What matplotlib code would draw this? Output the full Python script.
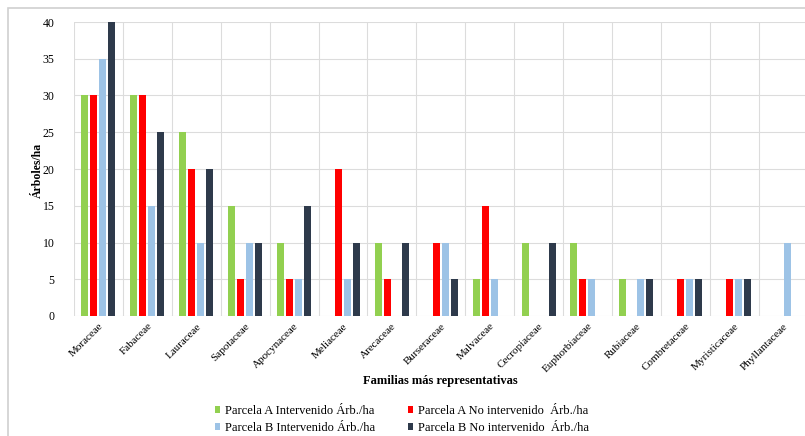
import matplotlib
matplotlib.use("Agg")
import matplotlib.pyplot as plt
import matplotlib.patches as mpatches
import numpy as np

plt.rcParams['font.family'] = ['Liberation Serif', 'DejaVu Serif']

familias = ["Moraceae", "Fabaceae", "Lauraceae", "Sapotaceae", "Apocynaceae",
            "Meliaceae", "Arecaceae", "Burseraceae", "Malvaceae", "Cecropiaceae",
            "Euphorbiaceae", "Rubiaceae", "Combretaceae", "Myristicaceae", "Phyllantaceae"]
a_int = [30, 30, 25, 15, 10, 0, 10, 0, 5, 10, 10, 5, 0, 0, 0]
a_no = [30, 30, 20, 5, 5, 20, 5, 10, 15, 0, 5, 0, 5, 5, 0]
b_int = [35, 15, 10, 10, 5, 5, 0, 10, 5, 0, 5, 5, 5, 5, 10]
b_no = [40, 25, 20, 10, 15, 10, 10, 5, 0, 10, 0, 5, 5, 5, 0]
series_names = ["Parcela A Intervenido Árb./ha", "Parcela A No intervenido  Árb./ha",
                "Parcela B Intervenido Árb./ha", "Parcela B No intervenido  Árb./ha"]
yticks = [0, 5, 10, 15, 20, 25, 30, 35, 40]

colors = ["#92D050", "#FF0000", "#9DC3E6", "#2E3A4B"]

W, H = 805, 436
fig = plt.figure(figsize=(W / 100, H / 100), dpi=100)
# outer chart border
fig.patches.append(mpatches.Rectangle((8 / W, -0.1), 1.2, 1 - 8 / H + 0.1,
                                      transform=fig.transFigure, fill=False,
                                      edgecolor="#D0D0D0", linewidth=1.2))

ax = fig.add_axes([74 / W, 1 - 316 / H, 733.5 / W, (316 - 22) / H])
x = np.arange(len(familias))
width = 0.143
pitch = 0.184
data = [a_int, a_no, b_int, b_no]
handles = []
for i, (vals, c, name) in enumerate(zip(data, colors, series_names)):
    offs = (i - 1.5) * pitch
    h = ax.bar(x + offs, vals, width=width, color=c, label=name, zorder=3)
    handles.append(h)

ax.set_xlim(-0.5, len(familias) - 0.5)
ax.set_ylim(0, 40)
ax.set_yticks(yticks)
ax.set_yticklabels([str(v) for v in yticks], fontsize=8.5)
ax.set_xticks(x)
ax.set_xticklabels(familias, fontsize=8, rotation=45, ha='right', rotation_mode='anchor')
ax.tick_params(axis='both', length=0)
ax.tick_params(axis='y', pad=14)
ax.tick_params(axis='x', pad=4)
# gridlines
for v in yticks:
    ax.axhline(v, color="#DCDCDC", linewidth=0.8, zorder=1)
for b in np.arange(-0.5, len(familias) + 0.5, 1.0):
    ax.axvline(b, color="#DCDCDC", linewidth=0.8, zorder=1)
for s in ax.spines.values():
    s.set_visible(False)

fig.text(440 / W, 1 - 381 / H, "Familias más representativas", fontsize=9,
         fontweight='bold', ha='center', va='center')
fig.text(38 / W, 1 - 170 / H, "Árboles/ha", fontsize=8.5, fontweight='bold',
         rotation=90, ha='center', va='center')

order = [0, 2, 1, 3]
leg = fig.legend(handles=[handles[i] for i in order],
                 labels=[series_names[i] for i in order], ncol=2, loc='center',
                 bbox_to_anchor=(402 / W, 1 - 419.5 / H), frameon=False,
                 fontsize=9, handlelength=0.45, handleheight=0.45,
                 handletextpad=0.4, columnspacing=2.6, labelspacing=0.4)

fig.savefig("out.png", dpi=100)
